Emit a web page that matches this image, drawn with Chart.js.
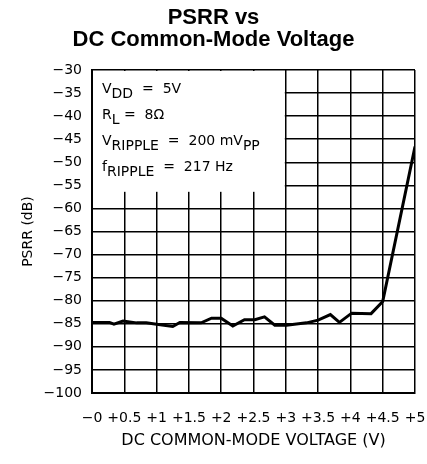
<!DOCTYPE html>
<html lang="en">
<head>
  <meta charset="UTF-8">
  <title>PSRR vs DC Common-Mode Voltage</title>
  <style>
    body {
      margin: 0;
      background-color: white;
    }
    .chart-box {
      width: 427px;
      height: 464px;
    }
  </style>
  <script src="https://cdn.jsdelivr.net/npm/chart.js"></script>
</head>
<body>
  <div class="chart-box">
    <canvas id="psrrChart" width="427" height="464"></canvas>
  </div>

  <script>
    // DC common-mode voltage (V) and measured PSRR (dB)
    const volts = [0, 0.27, 0.34, 0.48, 0.69, 0.84, 1.0, 1.25, 1.36, 1.69, 1.85, 2.0, 2.18,
                   2.36, 2.52, 2.67, 2.83, 3.01, 3.32, 3.5, 3.69, 3.83, 4.02, 4.32, 4.5, 5.0];
    const psrr = [-84.7, -84.7, -85.1, -84.4, -84.8, -84.8, -85.1, -85.6, -84.7, -84.8, -83.8, -83.8, -85.5,
                  -84.1, -84.1, -83.5, -85.3, -85.3, -84.8, -84.2, -83.0, -84.7, -82.7, -82.8, -80.2, -46.6];

    const titleLines = ['PSRR vs', 'DC Common-Mode Voltage'];
    const xTitle = 'DC COMMON-MODE VOLTAGE (V)';
    const yTitle = 'PSRR (dB)';

    // test conditions, each line split into [text, subscript?] pieces
    const conditions = [
      [['V', false], ['DD', true], ['  =  5V', false]],
      [['R', false], ['L', true], [' =  8\u03A9', false]],
      [['V', false], ['RIPPLE', true], ['  =  200 mV', false], ['PP', true]],
      [['f', false], ['RIPPLE', true], ['  =  217 Hz', false]]
    ];

    const tickFont = { family: 'DejaVu Sans', size: 14 };

    // white panel in the upper-left corner holding the test conditions
    const conditionsPanel = {
      id: 'conditionsPanel',
      beforeDatasetsDraw(chart) {
        const { ctx, chartArea, scales } = chart;
        const x0 = chartArea.left + 1;
        const x1 = scales.x.getPixelForValue(3) - 1;
        const y0 = chartArea.top + 1;
        const y1 = scales.y.getPixelForValue(-56.4);
        ctx.save();
        ctx.fillStyle = '#fff';
        ctx.fillRect(x0, y0, x1 - x0, y1 - y0);
        ctx.fillStyle = '#000';
        ctx.textBaseline = 'alphabetic';
        ctx.font = '14px "DejaVu Sans"';
        conditions.forEach((line, i) => {
          let x = chartArea.left + 10;
          const y = chartArea.top + 23 + i * 26;
          line.forEach(([text, sub]) => {
            ctx.fillText(text, x, sub ? y + 5 : y);
            x += ctx.measureText(text).width;
          });
        });
        ctx.restore();
      }
    };

    const ctx = document.getElementById('psrrChart').getContext('2d');
    const psrrChart = new Chart(ctx, {
      type: 'line',
      data: {
        datasets: [{
          data: volts.map((v, i) => ({ x: v, y: psrr[i] })),
          borderColor: '#000',
          borderWidth: 3,
          pointRadius: 0,
          tension: 0,
          fill: false
        }]
      },
      options: {
        responsive: false,
        animation: false,
        layout: { padding: { top: 0, right: 0, bottom: 0, left: 0 } },
        scales: {
          x: {
            type: 'linear',
            min: 0,
            max: 5,
            afterFit: (scale) => {
              scale.height = 71;
              scale.paddingRight = 12;
            },
            grid: { color: '#000', lineWidth: 1.5, drawTicks: false },
            border: { color: '#000', width: 2 },
            ticks: {
              stepSize: 0.5,
              padding: 17,
              color: '#000',
              font: tickFont,
              maxRotation: 0,
              autoSkip: false,
              callback: (v) => v === 0 ? '\u22120' : '+' + v
            },
            title: {
              display: true,
              text: xTitle,
              color: '#000',
              font: { family: 'DejaVu Sans', size: 16 },
              padding: { top: 0, bottom: 14 }
            }
          },
          y: {
            min: -100,
            max: -30,
            afterFit: (scale) => { scale.width = 92; },
            grid: { color: '#000', lineWidth: 1.5, drawTicks: false },
            border: { color: '#000', width: 2 },
            ticks: {
              stepSize: 5,
              padding: 10,
              color: '#000',
              font: tickFont,
              callback: (v) => '\u2212' + Math.abs(v)
            },
            title: {
              display: true,
              text: yTitle,
              color: '#000',
              font: tickFont,
              padding: { top: 20, bottom: 0 }
            }
          }
        },
        plugins: {
          legend: { display: false },
          tooltip: { enabled: false },
          title: {
            display: true,
            text: titleLines,
            color: '#000',
            font: { family: 'Liberation Sans', size: 22, weight: 'bold', lineHeight: 1.0 },
            padding: { top: 7, bottom: 19 }
          }
        }
      },
      plugins: [conditionsPanel]
    });
  </script>
</body>
</html>
